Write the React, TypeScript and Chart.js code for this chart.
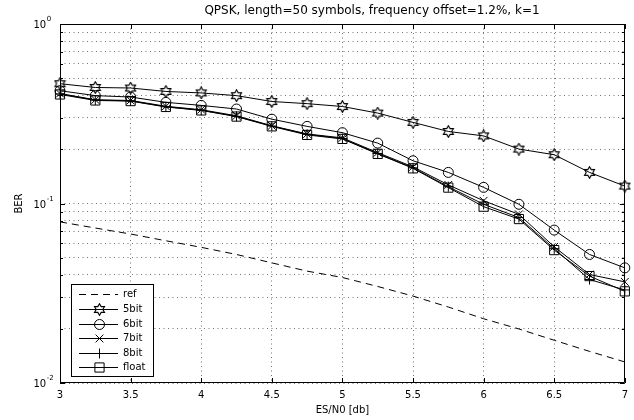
import React, { useEffect, useRef } from 'react';
import { Chart, registerables } from 'chart.js';
import { drawPoint } from 'chart.js/helpers';

Chart.register(...registerables);

const TITLE = 'QPSK, length=50 symbols, frequency offset=1.2%, k=1';
const X_LABEL = 'ES/N0 [db]';
const Y_LABEL = 'BER';

const esn0 = [3, 3.25, 3.5, 3.75, 4, 4.25, 4.5, 4.75, 5, 5.25, 5.5, 5.75, 6, 6.25, 6.5, 6.75, 7];
const xTicks = [3, 3.5, 4, 4.5, 5, 5.5, 6, 6.5, 7];
const yDecades = [0.01, 0.1, 1];
const yMinor = [0.02, 0.03, 0.04, 0.05, 0.06, 0.07, 0.08, 0.09, 0.2, 0.3, 0.4, 0.5, 0.6, 0.7, 0.8, 0.9];

const refBER = [0.079, 0.073, 0.0676, 0.062, 0.057, 0.052, 0.0467, 0.042, 0.0387, 0.0345, 0.0305, 0.0265, 0.0228, 0.02, 0.0173, 0.015, 0.0131];
const bit5 = [0.465, 0.443, 0.44, 0.421, 0.413, 0.399, 0.37, 0.36, 0.347, 0.319, 0.283, 0.252, 0.238, 0.201, 0.187, 0.149, 0.125];
const bit6 = [0.425, 0.399, 0.392, 0.366, 0.352, 0.336, 0.295, 0.269, 0.248, 0.217, 0.173, 0.149, 0.123, 0.099, 0.0711, 0.052, 0.0438];
const bit7 = [0.41, 0.378, 0.375, 0.348, 0.333, 0.308, 0.271, 0.244, 0.232, 0.192, 0.16, 0.127, 0.1036, 0.087, 0.0574, 0.0402, 0.0366];
const bit8 = [0.408, 0.377, 0.373, 0.346, 0.331, 0.306, 0.27, 0.243, 0.23, 0.19, 0.158, 0.124, 0.099, 0.0835, 0.056, 0.0377, 0.033];
const floatBER = [0.405, 0.375, 0.372, 0.345, 0.33, 0.305, 0.269, 0.241, 0.229, 0.189, 0.157, 0.1226, 0.096, 0.0819, 0.055, 0.0394, 0.0324];

const FONT = '"DejaVu Sans", "Liberation Sans", sans-serif';

function makeHexagram(): HTMLCanvasElement {
  const c = document.createElement('canvas');
  c.width = 13;
  c.height = 13;
  const ctx = c.getContext('2d')!;
  const cx = 6.5, cy = 6.5, ro = 5.8, ri = 3.35;
  ctx.beginPath();
  for (let i = 0; i < 12; i++) {
    const a = -Math.PI / 2 + (i * Math.PI) / 6;
    const r = i % 2 === 0 ? ro : ri;
    const x = cx + r * Math.cos(a);
    const y = cy + r * Math.sin(a);
    if (i === 0) ctx.moveTo(x, y); else ctx.lineTo(x, y);
  }
  ctx.closePath();
  ctx.strokeStyle = '#000';
  ctx.lineWidth = 1.1;
  ctx.stroke();
  return c;
}

const pts = (ys: number[]) => esn0.map((x, i) => ({ x, y: ys[i] }));

const decorPlugin = {
  id: 'decor',
  afterDraw(chart: any) {
    const { ctx, chartArea } = chart;
    const { left, right, top, bottom } = chartArea;
    const xs = chart.scales.x;
    const ys = chart.scales.y;
    ctx.save();
    // box
    ctx.strokeStyle = '#000';
    ctx.lineWidth = 1;
    ctx.setLineDash([]);
    ctx.beginPath();
    ctx.rect(Math.round(left) + 0.5, Math.round(top) + 0.5, Math.round(right) - Math.round(left) - 1, Math.round(bottom) - Math.round(top) - 1);
    ctx.stroke();
    // inward ticks
    ctx.beginPath();
    xTicks.forEach((v) => {
      const px = Math.round(xs.getPixelForValue(v)) + 0.5;
      ctx.moveTo(px, bottom); ctx.lineTo(px, bottom - 5);
      ctx.moveTo(px, top); ctx.lineTo(px, top + 5);
    });
    yDecades.forEach((v) => {
      const py = Math.round(ys.getPixelForValue(v)) + 0.5;
      ctx.moveTo(left, py); ctx.lineTo(left + 5, py);
      ctx.moveTo(right, py); ctx.lineTo(right - 5, py);
    });
    yMinor.forEach((v) => {
      const py = Math.round(ys.getPixelForValue(v)) + 0.5;
      ctx.moveTo(left, py); ctx.lineTo(left + 3, py);
      ctx.moveTo(right, py); ctx.lineTo(right - 3, py);
    });
    ctx.stroke();

    ctx.fillStyle = '#000';
    // y tick labels with superscript exponents
    yDecades.forEach((v) => {
      const py = ys.getPixelForValue(v);
      const e = Math.round(Math.log10(v));
      ctx.font = `10px ${FONT}`;
      ctx.textAlign = 'left';
      ctx.textBaseline = 'alphabetic';
      ctx.fillText('10', 33.5, py + 4);
      const w = ctx.measureText('10').width;
      ctx.font = `7px ${FONT}`;
      ctx.fillText(String(e), 33.5 + w + 0.5, py - 3);
    });
    // title
    ctx.font = `12px ${FONT}`;
    ctx.textAlign = 'center';
    ctx.textBaseline = 'middle';
    ctx.fillText(TITLE, 372, 11);
    // x label
    ctx.font = `10px ${FONT}`;
    ctx.fillText(X_LABEL, (left + right) / 2, 410);
    // y label
    ctx.save();
    ctx.translate(19, (top + bottom) / 2);
    ctx.rotate(-Math.PI / 2);
    ctx.fillText(Y_LABEL, 0, 0);
    ctx.restore();

    // legend
    const bx = 71, by = 284, bw = 82, bh = 92;
    ctx.fillStyle = '#fff';
    ctx.fillRect(bx, by, bw, bh);
    ctx.strokeStyle = '#000';
    ctx.strokeRect(bx + 0.5, by + 0.5, bw, bh);
    const rowY = [294, 309, 323.5, 338, 352.5, 367];
    chart.data.datasets.forEach((ds: any, i: number) => {
      const y = Math.round(rowY[i]) + 0.5;
      ctx.strokeStyle = '#000';
      ctx.lineWidth = 1;
      ctx.setLineDash(ds.borderDash || []);
      ctx.beginPath();
      ctx.moveTo(79, y);
      ctx.lineTo(118, y);
      ctx.stroke();
      ctx.setLineDash([]);
      if (ds.pointRadius > 0) {
        ctx.fillStyle = 'rgba(0,0,0,0)';
        drawPoint(ctx, { pointStyle: ds.pointStyle, radius: ds.pointRadius, borderWidth: 1, rotation: 0 } as any, 99.5, y);
      }
      ctx.fillStyle = '#000';
      ctx.font = `10px ${FONT}`;
      ctx.textAlign = 'left';
      ctx.textBaseline = 'middle';
      ctx.fillText(ds.label, 123, y);
    });
    ctx.restore();
  },
};

export default function App() {
  const ref = useRef<HTMLCanvasElement>(null);
  useEffect(() => {
    const hex = makeHexagram();
    const base = {
      borderColor: '#000',
      borderWidth: 1,
      backgroundColor: 'rgba(0,0,0,0)',
      pointBorderColor: '#000',
      pointBackgroundColor: 'rgba(0,0,0,0)',
      pointBorderWidth: 1,
      tension: 0,
      fill: false,
      clip: false,
    };
    const gridOpts = { color: 'rgba(0,0,0,0.55)', lineWidth: 1, drawTicks: false };
    const chart = new Chart(ref.current!, {
      type: 'line',
      data: {
        datasets: [
          { ...base, label: 'ref', data: pts(refBER), borderDash: [7, 5], pointRadius: 0 },
          { ...base, label: '5bit', data: pts(bit5), pointStyle: hex, pointRadius: 6 },
          { ...base, label: '6bit', data: pts(bit6), pointStyle: 'circle', pointRadius: 5 },
          { ...base, label: '7bit', data: pts(bit7), pointStyle: 'crossRot', pointRadius: 5.5 },
          { ...base, label: '8bit', data: pts(bit8), pointStyle: 'cross', pointRadius: 5 },
          { ...base, label: 'float', data: pts(floatBER), pointStyle: 'rect', pointRadius: 6.5 },
        ] as any,
      },
      options: {
        responsive: false,
        animation: false,
        devicePixelRatio: 1,
        layout: { padding: { top: 24, right: 8, left: 0, bottom: 0 } },
        plugins: { legend: { display: false }, tooltip: { enabled: false }, title: { display: false } },
        scales: {
          x: {
            type: 'linear',
            min: 3,
            max: 7,
            afterBuildTicks: (s: any) => { s.ticks = xTicks.map((v) => ({ value: v })); },
            afterFit: (s: any) => { s.height = 37; },
            ticks: {
              font: { family: FONT, size: 10 },
              color: '#000',
              padding: 6,
              maxRotation: 0,
              autoSkip: false,
              callback: (v: any) => String(Number(v)),
            },
            grid: gridOpts,
            border: { display: false, dash: [1, 3.5] },
          },
          y: {
            type: 'logarithmic',
            min: 0.01,
            max: 1,
            afterBuildTicks: (s: any) => {
              s.ticks = [...yDecades, ...yMinor].sort((a, b) => a - b).map((v) => ({ value: v, major: yDecades.includes(v) }));
            },
            afterFit: (s: any) => { s.width = 60; },
            ticks: { display: false, autoSkip: false },
            grid: gridOpts,
            border: { display: false, dash: [1, 3.5] },
          },
        },
      } as any,
      plugins: [decorPlugin],
    });
    return () => chart.destroy();
  }, []);
  return (
    <div style={{ position: 'absolute', left: 0, top: 0, width: 634, height: 420, background: '#fff' }}>
      <canvas ref={ref} width={634} height={420} style={{ display: 'block', width: 634, height: 420 }} />
    </div>
  );
}
